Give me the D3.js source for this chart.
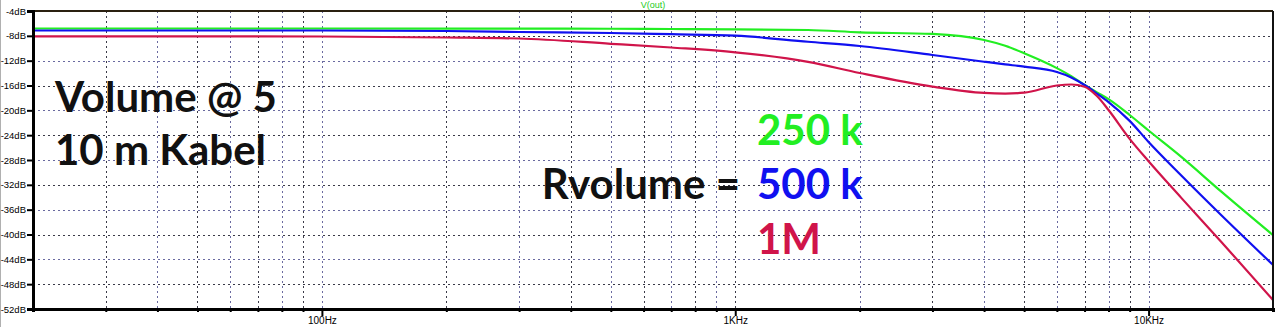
<!DOCTYPE html>
<html>
<head>
<meta charset="utf-8">
<script src="https://cdn.jsdelivr.net/npm/d3@7/dist/d3.min.js"></script>
<style>
  html, body { margin: 0; padding: 0; background: #fff; }
  svg { display: block; }
</style>
</head>
<body>
<svg id="chart" width="1280" height="327"></svg>
<script>
// ---- data ----
const freqs = [20, 50, 100, 200, 300, 500, 700, 1000, 1500, 2000, 3000, 4000, 4500, 5000, 6000, 6500, 7000, 7500, 8000, 9000, 10000, 12000, 15000, 20000];
const green250k = [-6.82, -6.82, -6.82, -6.83, -6.84, -6.86, -6.90, -6.95, -7.06, -7.43, -7.70, -8.67, -9.6, -10.8, -13.2, -14.5, -15.9, -17.1, -18.2, -20.75, -23.25, -27.5, -33.1, -40.1];
const blue500k  = [-7.14, -7.14, -7.14, -7.22, -7.38, -7.54, -7.74, -7.98, -8.95, -9.64, -11.09, -12.17, -12.6, -12.97, -13.83, -14.7, -15.92, -17.3, -18.66, -21.7, -25.1, -30.5, -36.9, -44.9];
const red1M     = [-8.08, -8.09, -8.11, -8.27, -8.43, -9.28, -9.88, -10.65, -12.2, -13.99, -16.19, -17.2, -17.3, -17.16, -16.0, -15.84, -16.2, -17.7, -19.95, -24.6, -28.2, -34.1, -41.2, -50.55];
const yTicks = [-4, -8, -12, -16, -20, -24, -28, -32, -36, -40, -44, -48, -52];
const xMajor = [100, 1000, 10000];
const xMajorLabels = ["100Hz", "1KHz", "10KHz"];
const seriesNames = ["250 k", "500 k", "1M"];
const titleText = "V(out)";

// ---- layout ----
const L = 33, R = 1273, T = 11, B = 309;
const svg = d3.select("#chart");
const x = d3.scaleLog().domain([20, 20000]).range([L, R]);
const y = d3.scaleLinear().domain([-52, -4]).range([B, T]);

const colors = { green: "#22ee22", blue: "#1010f0", red: "#d0144a" };

// left edge gray line
svg.append("line").attr("x1", 0.5).attr("x2", 0.5).attr("y1", 0).attr("y2", 327)
  .attr("stroke", "#b0b0b0").attr("stroke-width", 1);

// x tick positions
const xAll = [];
[10, 100, 1000, 10000].forEach(d => { for (let k = 1; k <= 9; k++) { const f = d * k; if (f >= 20 && f <= 20000) xAll.push(f); } });

const grid = svg.append("g");
function dotted(g, x1, y1, x2, y2, c) {
  g.append("line").attr("x1", x1).attr("y1", y1).attr("x2", x2).attr("y2", y2)
    .attr("stroke", c).attr("stroke-width", 1).attr("stroke-dasharray", "2,3");
}
xAll.filter(f => f > 20 && f < 20000).forEach((f, i) => {
  const px = Math.round(x(f)) + 0.5;
  dotted(grid, px, T, px, B, i % 2 ? "#6a6aa0" : "#3a3a48");
});
yTicks.filter(v => v > -52 && v < -4).forEach((v, i) => {
  const py = Math.round(y(v)) + 0.5;
  dotted(grid, L, py, R, py, i % 2 ? "#6a6aa0" : "#3a3a48");
});

// clip
svg.append("defs").append("clipPath").attr("id", "clip")
  .append("rect").attr("x", L).attr("y", T).attr("width", R - L).attr("height", B - T);

// curves
const line = d3.line().x((d, i) => x(freqs[i])).y(d => y(d)).curve(d3.curveMonotoneX);
const curves = svg.append("g").attr("clip-path", "url(#clip)");
[[green250k, colors.green], [blue500k, colors.blue], [red1M, colors.red]].forEach(([vals, c]) => {
  curves.append("path").datum(vals).attr("d", line)
    .attr("fill", "none").attr("stroke", c).attr("stroke-width", 2.2);
});

// frame
svg.append("line").attr("x1", L).attr("x2", R).attr("y1", T).attr("y2", T).attr("stroke", "#2a2010").attr("stroke-width", 2);
svg.append("line").attr("x1", R).attr("x2", R).attr("y1", T).attr("y2", B).attr("stroke", "#111").attr("stroke-width", 2);

// axes via d3
const yAxis = d3.axisLeft(y).tickValues(yTicks).tickFormat(d => d + "dB").tickSize(6).tickPadding(1);
const gy = svg.append("g").attr("transform", `translate(${L},0)`).call(yAxis);
gy.select(".domain").attr("stroke", "#000").attr("stroke-width", 3);
gy.selectAll(".tick line").attr("stroke", "#000").attr("stroke-width", 2);
gy.selectAll(".tick text").attr("font-family", "Liberation Sans, Arial, sans-serif").attr("font-size", 9.5).attr("fill", "#000");

const xAxis = d3.axisBottom(x).tickValues(xAll).tickFormat(d => {
  const i = xMajor.indexOf(d); return i >= 0 ? xMajorLabels[i] : "";
}).tickSize(3).tickPadding(5);
const gx = svg.append("g").attr("transform", `translate(0,${B})`).call(xAxis);
gx.select(".domain").attr("stroke", "#000").attr("stroke-width", 3);
gx.selectAll(".tick line").attr("stroke", "#000").attr("stroke-width", 2)
  .attr("y2", d => xMajor.includes(d) ? 7 : 3);
gx.selectAll(".tick text").attr("font-family", "Liberation Sans, Arial, sans-serif").attr("font-size", 10).attr("fill", "#000");

// title
svg.append("text").attr("x", (L + R) / 2 + 0).attr("y", 8).attr("text-anchor", "middle")
  .attr("font-family", "Liberation Sans, Arial, sans-serif").attr("font-size", 9)
  .attr("fill", "#22cc22").text(titleText);

// annotations
const ann = svg.append("g").attr("font-family", "Lato, 'Open Sans', sans-serif").attr("font-weight", "bold").attr("font-size", 42);
ann.append("text").attr("x", 55).attr("y", 112).attr("fill", "#111").text("Volume @ 5");
ann.append("text").attr("x", 55).attr("y", 165).attr("fill", "#111").text("10 m Kabel");
ann.append("text").attr("x", 740).attr("y", 199).attr("text-anchor", "end").attr("fill", "#111").text("Rvolume =");
ann.append("text").attr("x", 757).attr("y", 145).attr("fill", colors.green).text(seriesNames[0]);
ann.append("text").attr("x", 757).attr("y", 199).attr("fill", colors.blue).text(seriesNames[1]);
ann.append("text").attr("x", 757).attr("y", 254).attr("fill", colors.red).text(seriesNames[2]);
</script>
</body>
</html>
